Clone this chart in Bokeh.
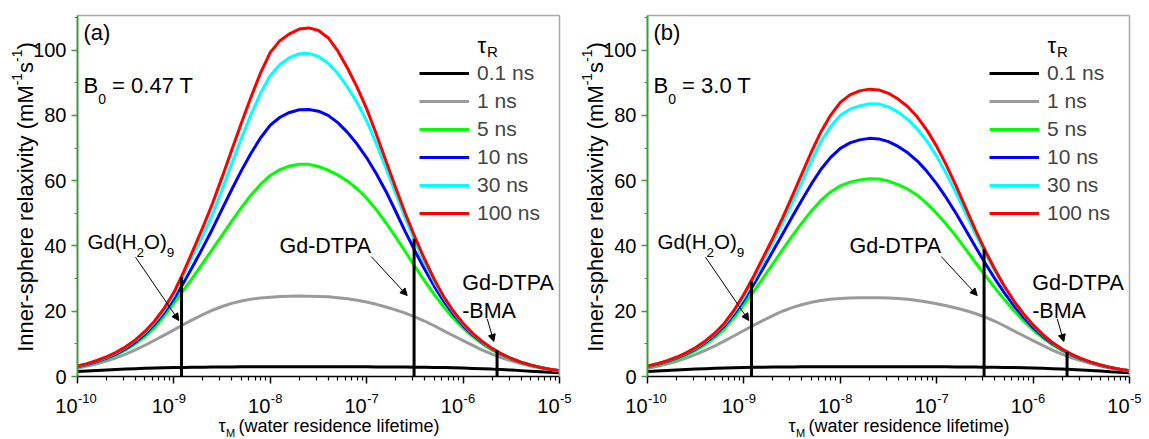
import math
from bokeh.plotting import figure
from bokeh.models import (ColumnDataSource, Legend, LegendItem, Label, Arrow, NormalHead,
                          Range1d, FixedTicker, CustomJSTickFormatter, LogAxis, LinearAxis)
from bokeh.layouts import row
from bokeh.embed import file_html
from bokeh.resources import INLINE

# ---------------- data ----------------
log_tau_m = [-10.0, -9.9, -9.8, -9.7, -9.6, -9.5, -9.4, -9.3, -9.2, -9.1,
             -9.0, -8.9, -8.8, -8.7, -8.6, -8.5, -8.4, -8.3, -8.2, -8.1,
             -8.0, -7.9, -7.8, -7.7, -7.6, -7.5, -7.4, -7.3, -7.2, -7.1,
             -7.0, -6.9, -6.8, -6.7, -6.6, -6.5, -6.4, -6.3, -6.2, -6.1,
             -6.0, -5.9, -5.8, -5.7, -5.6, -5.5, -5.4, -5.3, -5.2, -5.1, -5.0]
tau_r_labels = ["0.1 ns", "1 ns", "5 ns", "10 ns", "30 ns", "100 ns"]

# panel (a): B0 = 0.47 T
a_tr01 = [1.5, 1.68, 1.84, 2.0, 2.15, 2.28, 2.4, 2.5, 2.59, 2.66,
          2.73, 2.78, 2.82, 2.86, 2.89, 2.91, 2.93, 2.95, 2.96, 2.97,
          2.98, 2.985, 2.99, 2.99, 2.99, 2.985, 2.98, 2.975, 2.97, 2.96,
          2.95, 2.935, 2.92, 2.9, 2.88, 2.85, 2.82, 2.775, 2.72, 2.65,
          2.57, 2.48, 2.38, 2.26, 2.12, 1.97, 1.8, 1.63, 1.46, 1.29, 1.13]
a_tr1 = [2.6, 3.18, 3.9, 4.76, 5.75, 6.88, 8.15, 9.58, 11.1, 12.68,
         14.3, 15.93, 17.5, 18.97, 20.3, 21.44, 22.4, 23.14, 23.7, 24.06,
         24.3, 24.49, 24.6, 24.63, 24.6, 24.54, 24.4, 24.15, 23.8, 23.36,
         22.8, 22.11, 21.3, 20.41, 19.4, 18.27, 17.0, 15.54, 14.0, 12.49,
         11.0, 9.51, 8.1, 6.86, 5.75, 4.79, 3.95, 3.23, 2.62, 2.11, 1.7]
a_tr5 = [2.9, 3.56, 4.4, 5.38, 6.6, 8.13, 10.0, 12.24, 15.0, 18.56,
         22.5, 26.44, 30.5, 34.71, 39.0, 43.33, 47.6, 51.76, 55.6, 58.92,
         61.6, 63.39, 64.5, 65.04, 65.0, 64.34, 63.2, 61.77, 59.9, 57.51,
         54.6, 51.07, 47.1, 42.79, 38.3, 33.75, 29.3, 25.14, 21.3, 17.85,
         14.8, 12.21, 10.0, 8.14, 6.6, 5.33, 4.3, 3.45, 2.76, 2.19, 1.76]
a_tr10 = [3.0, 3.71, 4.6, 5.63, 6.9, 8.5, 10.5, 12.99, 16.0, 19.61,
          23.8, 28.69, 34.0, 39.48, 45.2, 51.26, 57.3, 63.07, 68.4, 73.15,
          77.0, 79.43, 80.9, 81.71, 81.8, 81.28, 80.0, 77.78, 74.8, 71.22,
          67.0, 62.13, 56.7, 50.63, 44.4, 38.5, 32.9, 27.69, 23.0, 19.01,
          15.6, 12.76, 10.4, 8.41, 6.77, 5.44, 4.36, 3.49, 2.79, 2.21, 1.77]
a_tr30 = [3.15, 3.88, 4.8, 5.89, 7.25, 8.93, 11.0, 13.51, 16.6, 20.38,
          25.0, 30.91, 37.3, 43.24, 49.6, 57.23, 65.2, 72.98, 80.3, 86.85,
          92.2, 95.61, 97.7, 98.88, 99.0, 98.04, 96.0, 92.81, 88.7, 83.95,
          78.3, 71.35, 63.8, 56.15, 48.6, 41.48, 34.9, 29.14, 24.1, 19.77,
          16.1, 13.08, 10.6, 8.53, 6.85, 5.49, 4.4, 3.51, 2.8, 2.22, 1.78]
a_tr100 = [3.2, 3.95, 4.9, 6.02, 7.4, 9.09, 11.2, 13.79, 17.0, 20.95,
           25.8, 31.96, 38.8, 45.69, 53.0, 61.08, 69.4, 77.67, 85.6, 93.11,
           99.3, 102.89, 105.0, 106.44, 106.8, 106.0, 103.8, 99.74, 94.5, 88.67,
           82.0, 74.22, 66.0, 57.88, 50.0, 42.73, 36.0, 29.83, 24.4, 19.98,
           16.3, 13.23, 10.7, 8.61, 6.9, 5.51, 4.4, 3.51, 2.8, 2.23, 1.8]

# panel (b): B0 = 3.0 T
b_tr01 = [1.5, 1.68, 1.84, 2.0, 2.15, 2.28, 2.4, 2.51, 2.6, 2.68,
          2.75, 2.8, 2.85, 2.89, 2.92, 2.94, 2.96, 2.98, 2.99, 2.995,
          3.0, 3.0, 3.0, 3.0, 3.0, 3.0, 3.0, 2.995, 2.99, 2.98,
          2.97, 2.955, 2.94, 2.92, 2.9, 2.87, 2.84, 2.79, 2.74, 2.67,
          2.59, 2.5, 2.4, 2.28, 2.14, 1.99, 1.82, 1.65, 1.47, 1.3, 1.14]
b_tr1 = [2.55, 3.14, 3.85, 4.68, 5.65, 6.76, 8.0, 9.4, 10.9, 12.49,
         14.1, 15.68, 17.2, 18.67, 20.0, 21.09, 22.0, 22.74, 23.3, 23.67,
         23.9, 24.04, 24.1, 24.13, 24.1, 24.04, 23.9, 23.65, 23.3, 22.84,
         22.3, 21.69, 21.0, 20.21, 19.3, 18.23, 17.0, 15.54, 14.0, 12.49,
         11.0, 9.51, 8.1, 6.86, 5.75, 4.79, 3.95, 3.23, 2.62, 2.11, 1.7]
b_tr5 = [2.9, 3.54, 4.35, 5.31, 6.5, 7.98, 9.8, 12.0, 14.7, 18.14,
         22.0, 26.02, 30.2, 34.5, 38.8, 43.0, 47.0, 50.74, 54.0, 56.53,
         58.4, 59.56, 60.2, 60.57, 60.5, 59.88, 58.8, 57.39, 55.5, 52.98,
         50.0, 46.66, 43.0, 39.04, 35.0, 31.09, 27.3, 23.64, 20.2, 17.09,
         14.3, 11.86, 9.75, 7.98, 6.5, 5.27, 4.25, 3.42, 2.74, 2.18, 1.76]
b_tr10 = [3.05, 3.73, 4.6, 5.63, 6.9, 8.47, 10.4, 12.73, 15.6, 19.21,
          23.4, 28.14, 33.2, 38.36, 43.6, 48.86, 54.0, 59.0, 63.5, 67.13,
          69.9, 71.58, 72.5, 72.96, 72.8, 71.95, 70.5, 68.54, 66.0, 62.78,
          59.0, 54.7, 50.0, 44.94, 39.8, 34.84, 30.1, 25.71, 21.7, 18.13,
          15.0, 12.35, 10.1, 8.22, 6.65, 5.36, 4.31, 3.46, 2.77, 2.2, 1.77]
b_tr30 = [3.15, 3.85, 4.75, 5.83, 7.15, 8.74, 10.7, 13.11, 16.1, 19.86,
          24.3, 29.53, 35.2, 41.0, 47.0, 53.21, 59.5, 66.03, 72.0, 76.6,
          80.0, 81.91, 82.9, 83.54, 83.5, 82.61, 81.0, 78.76, 75.8, 72.03,
          67.5, 62.16, 56.3, 50.06, 43.8, 37.96, 32.5, 27.5, 23.0, 19.09,
          15.7, 12.79, 10.35, 8.36, 6.75, 5.44, 4.38, 3.51, 2.8, 2.22, 1.78]
b_tr100 = [3.2, 3.89, 4.8, 5.9, 7.25, 8.88, 10.9, 13.33, 16.4, 20.44,
           25.2, 30.65, 36.5, 42.36, 48.5, 55.19, 62.0, 68.78, 75.0, 80.09,
           84.0, 86.29, 87.5, 88.04, 87.8, 86.76, 85.0, 82.64, 79.5, 75.41,
           70.5, 64.78, 58.5, 51.75, 45.0, 38.77, 33.0, 27.81, 23.2, 19.23,
           15.8, 12.86, 10.4, 8.41, 6.8, 5.48, 4.4, 3.51, 2.8, 2.23, 1.8]

# marked complexes: water residence lifetimes and marker heights
marker_tau = [1.2e-9, 3.1e-7, 2.25e-6]
marker_top_a = [30.5, 42.2, 8.0]
marker_top_b = [29.1, 39.0, 7.5]

decades = [-10, -9, -8, -7, -6, -5]
y_ticks = [0, 20, 40, 60, 80, 100]
y_minor = [10, 30, 50, 70, 90, 110]

# ---------------- styling / layout ----------------
FONT = "Liberation Sans"
COLORS = ["#000000", "#9a9a9a", "#00ff00", "#0000ff", "#00ffff", "#ff0000"]
AXIS_GREEN = "#3d9b3d"
BORDER_GRAY = "#a8a8a8"
CANVAS_H = 438
AX_TOP = 15
FRAME_W, FRAME_H = 482, 361
Y_MAX = 110.6
PX_PER_DEC = FRAME_W / 5.0
PX_PER_UNIT = FRAME_H / Y_MAX
X_MIN, X_MAX = 1e-10, 1e-5


def fx(px):
    return 10 ** (-10 + px / PX_PER_DEC)


def fy(py):
    return (FRAME_H - py) / PX_PER_UNIT


def txt(p, px, py, s, size, align="left", angle=0.0):
    p.add_layout(Label(x=fx(px), y=fy(py), text=s, text_font=FONT,
                       text_font_size=f"{size}px", text_align=align,
                       text_baseline="middle", angle=angle, text_color="black"))


def make_panel(series, tops, letter, field_rest, width, left):
    p = figure(width=width, height=CANVAS_H, x_axis_type="log",
               x_axis_location=None, y_axis_location=None,
               x_range=Range1d(fx(-left), fx(width - left)),
               y_range=Range1d(fy(CANVAS_H - AX_TOP), fy(-AX_TOP)),
               output_backend="svg", toolbar_location=None, min_border=0)
    p.grid.visible = False
    p.outline_line_color = None
    p.background_fill_color = "white"
    p.border_fill_color = "white"

    tau = [10 ** v for v in log_tau_m]
    items = []
    for lab, col, vals in zip(tau_r_labels, COLORS, series):
        r = p.line(tau, vals, line_color=col, line_width=3)
        items.append(LegendItem(label=lab, renderers=[r]))

    src = ColumnDataSource(dict(tau=marker_tau, top=tops))
    p.segment(x0="tau", y0=0, x1="tau", y1="top", source=src,
              line_color="black", line_width=3)

    # frame lines (top / right)
    top_ax = LogAxis(fixed_location=Y_MAX, bounds=(X_MIN, X_MAX),
                     ticker=FixedTicker(ticks=[]),
                     formatter=CustomJSTickFormatter(code="return ''"),
                     axis_line_color=BORDER_GRAY, axis_line_width=1.5,
                     major_tick_out=0, minor_tick_out=0)
    p.add_layout(top_ax, "above")
    right_ax = LinearAxis(fixed_location=X_MAX, bounds=(0, Y_MAX),
                          ticker=FixedTicker(ticks=[]),
                          formatter=CustomJSTickFormatter(code="return ''"),
                          axis_line_color=BORDER_GRAY, axis_line_width=1.5,
                          major_tick_out=0, minor_tick_out=0)
    p.add_layout(right_ax, "right")

    # bottom (log) axis
    xa = LogAxis(fixed_location=0, bounds=(X_MIN, X_MAX),
                 ticker=FixedTicker(ticks=[10.0 ** e for e in decades],
                                    minor_ticks=[m * 10.0 ** e for e in decades[:-1]
                                                 for m in range(2, 10)]),
                 formatter=CustomJSTickFormatter(code="return ''"),
                 axis_line_color="black", axis_line_width=1.5,
                 major_tick_line_color="black", major_tick_line_width=1.5,
                 major_tick_out=7, major_tick_in=0,
                 minor_tick_line_color="black", minor_tick_line_width=1.2,
                 minor_tick_out=4, minor_tick_in=0)
    p.add_layout(xa, "below")

    # left axis
    ya = LinearAxis(fixed_location=X_MIN, bounds=(0, Y_MAX),
                    ticker=FixedTicker(ticks=y_ticks, minor_ticks=y_minor),
                    axis_line_color=AXIS_GREEN, axis_line_width=2,
                    major_tick_line_color=AXIS_GREEN, major_tick_line_width=1.5,
                    major_tick_out=6, major_tick_in=0,
                    minor_tick_line_color=AXIS_GREEN, minor_tick_line_width=1.2,
                    minor_tick_out=3, minor_tick_in=0,
                    major_label_text_font=FONT, major_label_text_font_size="20px",
                    major_label_text_color="black", major_label_standoff=5)
    p.add_layout(ya, "left")

    # x tick labels 10^n
    for e in decades:
        px = (e + 10) * PX_PER_DEC
        txt(p, px, 390, "10", 20, align="right")
        txt(p, px + 0.5, 383, str(e), 13)

    # legend
    leg = Legend(items=items, location=(left + 342, CANVAS_H - 225), glyph_width=50,
                 glyph_height=24, label_height=24, label_standoff=8, spacing=4,
                 padding=0, margin=0, label_text_font=FONT, label_text_font_size="21px",
                 border_line_color=None, background_fill_alpha=0)
    p.add_layout(leg)
    txt(p, 400, 30, "\u03c4", 22)
    txt(p, 409.5, 36, "R", 15)

    # panel texts
    txt(p, 6, 17, letter, 22)
    txt(p, 6, 70, "B", 22)
    txt(p, 20.7, 83.5, "0", 14)
    txt(p, 34.6, 70, field_rest, 22)

    txt(p, 10, 226, "Gd(H", 20.5)
    txt(p, 59, 237, "2", 13.5)
    txt(p, 66.5, 226, "O)", 20.5)
    txt(p, 89.3, 237, "9", 13.5)
    txt(p, 202, 230, "Gd-DTPA", 21.5)
    txt(p, 384.7, 267.5, "Gd-DTPA", 21.5)
    txt(p, 384.7, 295.8, "-BMA", 21.5)

    for (sx, sy), (ex, ey) in [((58, 241.7), (101.3, 305)),
                               ((293.7, 241), (329.7, 280)),
                               ((409.7, 303.3), (416.3, 326))]:
        p.add_layout(Arrow(end=NormalHead(size=7, fill_color="black", line_color="black",
                                          line_width=1),
                           x_start=fx(sx), y_start=fy(sy), x_end=fx(ex), y_end=fy(ey),
                           line_color="black", line_width=1))

    # y axis label (rotated, pieces for superscripts)
    ang = math.pi / 2
    txt(p, -52, 336.3, "Inner-sphere relaxivity (mM", 22, angle=ang)
    txt(p, -61, 69.8, "-1", 14, angle=ang)
    txt(p, -52, 57.4, "s", 22, angle=ang)
    txt(p, -61, 46.4, "-1", 14, angle=ang)
    txt(p, -52, 34.0, ")", 22, angle=ang)

    # x axis label
    txt(p, 141, 410, "\u03c4", 18)
    txt(p, 148.5, 417, "M", 11)
    txt(p, 161, 410, "(water residence lifetime)", 18)
    return p


pa = make_panel([a_tr01, a_tr1, a_tr5, a_tr10, a_tr30, a_tr100], marker_top_a,
                "(a)", "= 0.47 T", 578, 77)
pb = make_panel([b_tr01, b_tr1, b_tr5, b_tr10, b_tr30, b_tr100], marker_top_b,
                "(b)", "= 3.0 T", 570, 69)

layout = row(pa, pb)
open("out.html", "w").write(file_html(layout, INLINE))
